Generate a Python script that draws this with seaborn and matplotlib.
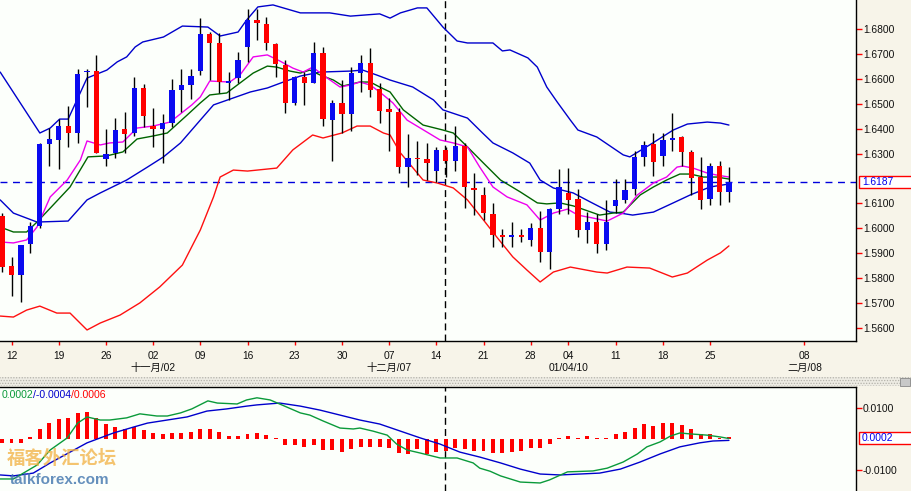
import numpy as np
import matplotlib
matplotlib.use("Agg")
import matplotlib.pyplot as plt
import matplotlib.transforms as mtransforms
from matplotlib.patches import Rectangle
import seaborn as sns

# ---------------- data (daily GBP/USD style candles, index = trading day) ----------------
opens = [1.6049, 1.5849, 1.5813, 1.5938, 1.6009, 1.6339, 1.6355, 1.6411, 1.6382, 1.6627,
         1.6632, 1.6277, 1.6301, 1.6399, 1.6382, 1.6564, 1.6411, 1.6398, 1.6422, 1.6556,
         1.6576, 1.6632, 1.6781, 1.6745, 1.6586, 1.6604, 1.6730, 1.6837, 1.6821, 1.6741,
         1.6656, 1.6505, 1.6607, 1.6585, 1.6706, 1.6435, 1.6505, 1.6459, 1.6626, 1.6666,
         1.6559, 1.6478, 1.6469, 1.6248, 1.6284, 1.6279, 1.6231, 1.6315, 1.6272, 1.6331,
         1.6161, 1.6134, 1.6057, 1.5973, 1.5966, 1.5973, 1.5953, 1.6000, 1.5906, 1.6077,
         1.6141, 1.6116, 1.5993, 1.6026, 1.5937, 1.6090, 1.6114, 1.6158, 1.6288, 1.6339,
         1.6291, 1.6355, 1.6367, 1.6308, 1.6205, 1.6118, 1.6250, 1.6146]
highs = [1.6061, 1.5886, 1.5933, 1.6026, 1.6342, 1.6402, 1.6438, 1.6492, 1.6640, 1.6640,
         1.6697, 1.6399, 1.6445, 1.6469, 1.6608, 1.6580, 1.6484, 1.6459, 1.6600, 1.6640,
         1.6640, 1.6845, 1.6790, 1.6784, 1.6630, 1.6710, 1.6882, 1.6880, 1.6851, 1.6746,
         1.6677, 1.6612, 1.6630, 1.6750, 1.6730, 1.6516, 1.6596, 1.6650, 1.6697, 1.6724,
         1.6583, 1.6523, 1.6482, 1.6379, 1.6352, 1.6344, 1.6328, 1.6328, 1.6411, 1.6342,
         1.6221, 1.6165, 1.6100, 1.5996, 1.6026, 1.5996, 1.6020, 1.6071, 1.6080, 1.6237,
         1.6241, 1.6157, 1.6064, 1.6057, 1.6114, 1.6198, 1.6198, 1.6312, 1.6351, 1.6382,
         1.6384, 1.6465, 1.6372, 1.6315, 1.6285, 1.6264, 1.6272, 1.6245]
lows = [1.5824, 1.5728, 1.5705, 1.5902, 1.6002, 1.6252, 1.6238, 1.6328, 1.6344, 1.6489,
        1.6301, 1.6252, 1.6281, 1.6301, 1.6371, 1.6408, 1.6328, 1.6261, 1.6408, 1.6469,
        1.6520, 1.6616, 1.6596, 1.6543, 1.6516, 1.6583, 1.6670, 1.6757, 1.6717, 1.6607,
        1.6462, 1.6496, 1.6496, 1.6583, 1.6411, 1.6272, 1.6382, 1.6392, 1.6549, 1.6529,
        1.6424, 1.6312, 1.6223, 1.6167, 1.6214, 1.6194, 1.6187, 1.6207, 1.6231, 1.6080,
        1.6053, 1.6033, 1.5923, 1.5926, 1.5926, 1.5946, 1.5929, 1.5866, 1.5835, 1.6057,
        1.6056, 1.5966, 1.5940, 1.5899, 1.5913, 1.6060, 1.6100, 1.6134, 1.6250, 1.6211,
        1.6250, 1.6311, 1.6250, 1.6134, 1.6079, 1.6094, 1.6094, 1.6106]
closes = [1.5845, 1.5813, 1.5933, 1.6009, 1.6339, 1.6359, 1.6411, 1.6384, 1.6620, 1.6634,
          1.6304, 1.6299, 1.6395, 1.6380, 1.6564, 1.6451, 1.6398, 1.6422, 1.6556, 1.6576,
          1.6612, 1.6781, 1.6746, 1.6588, 1.6589, 1.6677, 1.6837, 1.6824, 1.6744, 1.6659,
          1.6505, 1.6607, 1.6585, 1.6706, 1.6438, 1.6505, 1.6459, 1.6626, 1.6666, 1.6556,
          1.6473, 1.6469, 1.6248, 1.6281, 1.6279, 1.6264, 1.6315, 1.6272, 1.6331, 1.6165,
          1.6155, 1.6060, 1.5973, 1.5966, 1.5969, 1.5964, 1.6000, 1.5906, 1.6076, 1.6165,
          1.6114, 1.5993, 1.6025, 1.5937, 1.6026, 1.6114, 1.6154, 1.6285, 1.6335, 1.6268,
          1.6355, 1.6363, 1.6307, 1.6201, 1.6114, 1.6250, 1.6146, 1.6187]

# Bollinger upper / middle / lower and two moving averages
upper_x = [-0.2, 4.0, 5.1, 6.1, 7.0, 9.0, 11.1, 12.2, 13.2, 14.1, 14.9, 17.1, 19.1, 21.8, 23.1, 25.0,
           25.9, 27.1, 28.7, 31.6, 33.4, 34.7, 36.9, 40.0, 41.1, 42.2, 44.0, 45.0, 46.7, 48.2, 49.3,
           52.0, 53.0, 53.8, 55.7, 56.7, 57.7, 58.8, 60.2, 61.0, 63.0, 65.8, 66.5, 68.6, 71.1, 72.6,
           74.7, 76.1, 77.0]
upper_y = [1.6628, 1.6383, 1.6403, 1.6439, 1.6439, 1.6604, 1.6636, 1.6669, 1.6689, 1.6729, 1.6749,
           1.6769, 1.6813, 1.6809, 1.6773, 1.6789, 1.6837, 1.6890, 1.6898, 1.6866, 1.6866, 1.6866,
           1.6853, 1.6862, 1.6845, 1.6866, 1.6886, 1.6886, 1.6809, 1.6753, 1.6745, 1.6745, 1.6713,
           1.6717, 1.6685, 1.6648, 1.6568, 1.6508, 1.6435, 1.6395, 1.6367, 1.6295, 1.6287, 1.6335,
           1.6395, 1.6419, 1.6427, 1.6423, 1.6415]
mid_x = [-0.2, 1.2, 3.7, 7.0, 9.0, 10.4, 13.2, 15.4, 17.1, 18.9, 21.0, 22.4, 24.5, 26.3, 28.1, 29.8,
         31.6, 33.7, 36.9, 38.2, 39.7, 41.1, 43.5, 45.7, 46.7, 49.3, 50.9, 52.0, 54.1, 55.9, 57.0,
         58.4, 60.5, 62.3, 64.4, 65.5, 66.8, 69.0, 71.1, 72.9, 75.0, 77.0]
mid_y = [1.6114, 1.6061, 1.6025, 1.6029, 1.6114, 1.6142, 1.6194, 1.6246, 1.6287, 1.6343, 1.6435,
         1.6496, 1.6524, 1.6548, 1.6564, 1.6588, 1.6612, 1.6628, 1.6632, 1.6636, 1.6616, 1.6596,
         1.6568, 1.6516, 1.6476, 1.6443, 1.6383, 1.6343, 1.6303, 1.6262, 1.6194, 1.6162, 1.6142,
         1.6106, 1.6065, 1.6061, 1.6053, 1.6065, 1.6102, 1.6134, 1.6166, 1.6178]
lower_x = [-0.2, 1.2, 2.6, 4.0, 5.8, 7.2, 9.0, 10.4, 12.5, 14.6, 16.7, 19.1, 21.0, 22.4, 23.1, 24.5,
           26.0, 29.1, 30.8, 32.9, 34.0, 36.0, 37.6, 39.0, 40.4, 41.1, 42.2, 44.6, 46.1, 47.8, 49.3,
           51.0, 52.4, 54.1, 55.6, 57.0, 58.4, 60.2, 63.0, 64.1, 66.2, 68.6, 71.0, 72.6, 74.7, 76.1,
           77.0]
lower_y = [1.5647, 1.5643, 1.5671, 1.5687, 1.5659, 1.5659, 1.5591, 1.5619, 1.5651, 1.5700, 1.5764,
           1.5852, 1.5993, 1.6126, 1.6206, 1.6234, 1.6230, 1.6242, 1.6315, 1.6375, 1.6363, 1.6383,
           1.6411, 1.6411, 1.6383, 1.6375, 1.6303, 1.6194, 1.6182, 1.6162, 1.6114, 1.6033, 1.5965,
           1.5885, 1.5832, 1.5784, 1.5824, 1.5844, 1.5824, 1.5820, 1.5844, 1.5840, 1.5804, 1.5820,
           1.5872, 1.5901, 1.5929]
ma_fast_x = [-0.2, 1.2, 2.6, 3.7, 5.1, 6.9, 8.3, 9.0, 10.4, 11.4, 12.8, 14.3, 16.0, 17.8, 20.1, 21.0,
             22.0, 24.1, 25.2, 26.6, 28.1, 29.4, 30.8, 31.9, 32.9, 34.0, 35.8, 36.9, 37.9, 39.0, 40.0,
             41.4, 42.9, 44.3, 46.4, 47.8, 49.3, 50.6, 52.0, 53.5, 55.6, 57.0, 58.4, 59.9, 61.0, 62.6,
             64.1, 65.8, 67.3, 69.0, 70.4, 71.5, 72.1, 73.2, 74.7, 75.7, 77.0]
ma_fast_y = [1.5945, 1.5941, 1.5953, 1.6005, 1.6126, 1.6194, 1.6275, 1.6351, 1.6335, 1.6343, 1.6347,
             1.6403, 1.6411, 1.6427, 1.6496, 1.6528, 1.6592, 1.6588, 1.6616, 1.6689, 1.6697, 1.6673,
             1.6644, 1.6628, 1.6648, 1.6616, 1.6568, 1.6576, 1.6588, 1.6576, 1.6548, 1.6504, 1.6435,
             1.6403, 1.6355, 1.6343, 1.6327, 1.6246, 1.6166, 1.6126, 1.6094, 1.6033, 1.6061, 1.6077,
             1.6053, 1.6041, 1.6029, 1.6061, 1.6134, 1.6182, 1.6206, 1.6246, 1.6250, 1.6242, 1.6222,
             1.6214, 1.6206]
ma_slow_x = [-0.2, 1.2, 2.6, 3.7, 5.1, 7.2, 9.1, 11.1, 12.8, 14.3, 16.0, 17.5, 19.6, 21.0, 22.0, 23.8,
             25.2, 26.6, 28.1, 29.1, 30.5, 31.6, 32.6, 33.7, 35.1, 36.1, 37.9, 39.0, 40.0, 41.1, 42.5,
             44.6, 46.7, 47.8, 49.3, 51.0, 52.8, 54.9, 56.7, 57.7, 59.1, 60.5, 61.2, 63.3, 64.7, 65.8,
             67.6, 69.0, 70.4, 71.8, 72.9, 74.3, 75.7, 77.0]
ma_slow_y = [1.6005, 1.5985, 1.5985, 1.6025, 1.6081, 1.6166, 1.6287, 1.6291, 1.6307, 1.6359, 1.6371,
             1.6383, 1.6455, 1.6504, 1.6536, 1.6544, 1.6584, 1.6624, 1.6652, 1.6648, 1.6632, 1.6624,
             1.6636, 1.6616, 1.6596, 1.6572, 1.6588, 1.6588, 1.6568, 1.6548, 1.6476, 1.6415, 1.6395,
             1.6383, 1.6327, 1.6262, 1.6194, 1.6146, 1.6102, 1.6098, 1.6102, 1.6090, 1.6081, 1.6053,
             1.6061, 1.6065, 1.6134, 1.6166, 1.6194, 1.6218, 1.6218, 1.6206, 1.6206, 1.6198]

# MACD panel
macd_x = [-0.2, 1.2, 3.7, 5.1, 6.9, 8.0, 9.0, 10.4, 11.4, 13.2, 14.6, 16.4, 17.5, 18.9, 20.1, 21.8,
          22.8, 24.9, 25.9, 27.0, 28.4, 29.4, 31.6, 32.6, 34.0, 35.8, 37.2, 37.9, 39.3, 40.8, 41.8,
          42.9, 44.3, 46.4, 48.2, 49.9, 50.6, 51.7, 52.8, 54.9, 57.0, 58.0, 59.9, 62.6, 64.1, 65.8,
          67.3, 68.3, 69.7, 70.8, 71.8, 72.9, 74.7, 76.1, 77.0]
macd_y = [-0.0129, -0.0129, -0.0084, -0.0035, 0.0004, 0.0052, 0.0072, 0.0062, 0.0062, 0.0069, 0.0082,
          0.0075, 0.0075, 0.0085, 0.0098, 0.0124, 0.0117, 0.0114, 0.0127, 0.0134, 0.0127, 0.0114,
          0.0085, 0.0078, 0.0059, 0.0036, 0.0033, 0.0036, 0.0026, 0.0013, -0.0016, -0.0035, -0.0045,
          -0.0061, -0.0061, -0.0077, -0.0094, -0.0104, -0.0119, -0.0139, -0.0142, -0.0132, -0.0106,
          -0.0103, -0.0094, -0.0074, -0.0048, -0.0025, -0.0009, 0.0010, 0.0020, 0.0017, 0.0013,
          0.0007, 0.0002]
signal_x = [-0.2, 1.2, 3.3, 5.1, 7.2, 9.0, 10.4, 11.8, 13.9, 15.4, 17.5, 19.6, 21.7, 23.8, 25.9, 27.0,
            29.4, 31.6, 33.7, 35.8, 37.9, 40.0, 42.2, 44.3, 46.4, 48.5, 50.6, 52.8, 54.9, 57.0, 59.1,
            61.2, 63.3, 65.5, 67.6, 69.7, 71.8, 73.9, 75.3, 77.0]
signal_y = [-0.0116, -0.0119, -0.0110, -0.0077, -0.0042, -0.0012, 0.0004, 0.0020, 0.0039, 0.0052,
            0.0062, 0.0072, 0.0091, 0.0098, 0.0107, 0.0111, 0.0117, 0.0107, 0.0094, 0.0078, 0.0062,
            0.0049, 0.0026, 0.0004, -0.0016, -0.0042, -0.0058, -0.0077, -0.0097, -0.0113, -0.0116,
            -0.0113, -0.0110, -0.0097, -0.0074, -0.0048, -0.0025, -0.0012, -0.0006, -0.0004]
hist = [-0.0011, -0.0011, -0.0011, 0.0006, 0.0032, 0.0052, 0.0066, 0.0068, 0.0084, 0.0088,
        0.0067, 0.0049, 0.0041, 0.0032, 0.0038, 0.0030, 0.0019, 0.0016, 0.0019, 0.0019,
        0.0022, 0.0032, 0.0032, 0.0022, 0.0011, 0.0009, 0.0016, 0.0019, 0.0012, 0.0003,
        -0.0018, -0.0019, -0.0027, -0.0019, -0.0035, -0.0035, -0.0043, -0.0032, -0.0024, -0.0024,
        -0.0026, -0.0029, -0.0045, -0.0049, -0.0032, -0.0049, -0.0042, -0.0038, -0.0030, -0.0032,
        -0.0037, -0.0040, -0.0045, -0.0045, -0.0042, -0.0039, -0.0030, -0.0030, -0.0016, 0.0003,
        0.0009, 0.0005, 0.0009, 0.0003, 0.0005, 0.0016, 0.0023, 0.0036, 0.0049, 0.0044,
        0.0052, 0.0052, 0.0045, 0.0032, 0.0018, 0.0016, 0.0004, 0.0006]

date_ticks = [1, 6, 11, 16, 21, 26, 31, 36, 41, 46, 51, 56, 60, 65, 70, 75, 85]
date_labels = ['12', '19', '26', '02', '09', '16', '23', '30', '07', '14', '21', '28',
               '04', '11', '18', '25', '08']
month_ticks = [16, 41, 60, 85]
month_labels = ['十一月/02', '十二月/07', '01/04/10', '二月/08']
price_ticks = [1.56, 1.57, 1.58, 1.59, 1.60, 1.61, 1.63, 1.64, 1.65, 1.66, 1.67, 1.68]
macd_ticks = [0.01, -0.01]
cursor_x = 46.9

# ---------------- style ----------------
sns.set_style("white")
plt.rcParams['font.family'] = ['Liberation Sans', 'Noto Sans CJK SC']
plt.rcParams['hatch.linewidth'] = 0.6

W, H = 911, 491
BG_OUT = '#f7f4e9'
BG_IN = '#fcfffb'
BLUE = '#0a0af0'
RED = '#ff0000'

fig = plt.figure(figsize=(W / 100, H / 100), dpi=100, facecolor=BG_OUT)
ax = fig.add_axes([0, 1 - 341 / H, 856 / W, 341 / H], facecolor=BG_IN)
ax2 = fig.add_axes([0, 0, 856 / W, 104 / H], facecolor=BG_IN)

XLIM = (-0.22, 90.46)

# ---------------- main panel ----------------
n = len(opens)
xs = np.arange(n)
o = np.array(opens); c = np.array(closes)
up = c >= o
cols = np.where(up, BLUE, RED)
ax.vlines(xs, lows, highs, color='black', lw=1.0, zorder=3)
body_lo = np.minimum(o, c)
body_h = np.maximum(np.abs(c - o), 0.0005)
ax.bar(xs, body_h, bottom=body_lo, width=0.56, color=cols, linewidth=0, zorder=4)

line_kw = dict(ax=ax, estimator=None, sort=False, lw=1.0, legend=False, zorder=2)
sns.lineplot(x=upper_x, y=upper_y, color='#0000cc', **line_kw)
sns.lineplot(x=mid_x, y=mid_y, color='#0000cc', **line_kw)
sns.lineplot(x=lower_x, y=lower_y, color='#ff1010', **line_kw)
sns.lineplot(x=ma_slow_x, y=ma_slow_y, color='#006400', **line_kw)
sns.lineplot(x=ma_fast_x, y=ma_fast_y, color='#ee00ee', **line_kw)

last_close = closes[-1]
ax.axhline(last_close, color='#0000dd', lw=1.0, ls=(0, (5, 4)), zorder=1)
ax.axvline(cursor_x, color='black', lw=1.0, ls=(0, (5, 3)), zorder=1)

ax.set_xlim(*XLIM)
ax.set_ylim(1.55467, 1.69178)
ax.yaxis.tick_right()
ax.set_yticks(price_ticks)
ax.set_yticklabels([f'{v:.4f}' for v in price_ticks])
ax.tick_params(axis='y', colors=RED, labelcolor='#101010', length=4, width=1,
               direction='out', pad=1, labelsize=7.4, right=True, left=False)
ax.set_xticks(date_ticks)
ax.set_xticklabels(date_labels)
ax.tick_params(axis='x', colors=RED, labelcolor='#101010', length=3, width=1,
               direction='out', pad=4, labelsize=7.4, bottom=True)
for s in ['top', 'left']:
    ax.spines[s].set_visible(False)
for s in ['bottom', 'right']:
    ax.spines[s].set_color('black'); ax.spines[s].set_linewidth(1.0)
ax.set_xlabel(''); ax.set_ylabel('')

trans = mtransforms.blended_transform_factory(ax.transData, ax.transAxes)
for mt, ml in zip(month_ticks, month_labels):
    ax.text(mt, -27 / 341, ml, transform=trans, ha='center', va='center',
            fontsize=7.4, color='#101010')

# last-price box
tb = mtransforms.blended_transform_factory(ax.transAxes, ax.transData)
ax.add_patch(Rectangle((859 / 856, last_close - 0.0024), 60 / 856, 0.0048, transform=tb,
                       facecolor='white', edgecolor=RED, lw=1.0, clip_on=False, zorder=6))
ax.text(862 / 856, last_close, f'{last_close:.4f}', transform=tb, color='#0000ee',
        ha='left', va='center', fontsize=7.4, clip_on=False, zorder=7)

# ---------------- MACD panel ----------------
ax2.bar(xs, hist, width=0.42, color=RED, linewidth=0, zorder=2)
sns.lineplot(x=signal_x, y=signal_y, ax=ax2, color='#0000cc', lw=1.0, estimator=None,
             sort=False, legend=False, zorder=3)
sns.lineplot(x=macd_x, y=macd_y, ax=ax2, color='#0a9a3a', lw=1.0, estimator=None,
             sort=False, legend=False, zorder=3)
ax2.axvline(cursor_x, color='black', lw=1.0, ls=(0, (5, 3)), zorder=1)
ax2.set_xlim(*XLIM)
ax2.set_ylim(-0.0168, 0.0169)
ax2.yaxis.tick_right()
ax2.set_yticks(macd_ticks)
ax2.set_yticklabels([f'{v:.4f}' for v in macd_ticks])
ax2.tick_params(axis='y', colors=RED, labelcolor='#101010', length=4, width=1,
                direction='out', pad=1, labelsize=7.4, right=True, left=False)
ax2.set_xticks([])
for s in ['bottom', 'left']:
    ax2.spines[s].set_visible(False)
for s in ['top', 'right']:
    ax2.spines[s].set_color('black'); ax2.spines[s].set_linewidth(1.0)
ax2.set_xlabel(''); ax2.set_ylabel('')

tb2 = mtransforms.blended_transform_factory(ax2.transAxes, ax2.transData)
mval = macd_y[-1]
ax2.add_patch(Rectangle((859 / 856, 0.0004 - 0.0019), 60 / 856, 0.0038, transform=tb2,
                        facecolor='white', edgecolor=RED, lw=1.0, clip_on=False, zorder=6))
ax2.text(862 / 856, 0.0004, f'{mval:.4f}', transform=tb2, color='#0000ee',
         ha='left', va='center', fontsize=7.4, clip_on=False, zorder=7)

t1 = ax2.text(0.0015, 0.975, f'{macd_y[-1]:.4f}', transform=ax2.transAxes, color='#0a9a3a',
              ha='left', va='top', fontsize=7.6)
t2 = ax2.annotate(f'/{signal_y[-1]:.4f}', xy=(1, 0), xycoords=t1, color='#0000cc',
                  ha='left', va='bottom', fontsize=7.6)
t3 = ax2.annotate(f'/{hist[-1]:.4f}', xy=(1, 0), xycoords=t2, color=RED,
                  ha='left', va='bottom', fontsize=7.6)

# separator strip between panels
fig.add_artist(Rectangle((0, 1 - 386 / H), 1, 9 / H, transform=fig.transFigure,
                         facecolor='#eeece4', edgecolor='#b4b2aa', hatch='......', lw=0))
fig.add_artist(Rectangle((900 / W, 1 - 386 / H), 10 / W, 8 / H, transform=fig.transFigure,
                         facecolor='#c8c8c8', edgecolor='#888888', lw=0.6))

# watermark
fig.text(7 / W, 1 - 459 / H, '福客外汇论坛', fontsize=13.2, color='#f2b040', alpha=0.75,
         family=['Noto Sans CJK SC'], fontweight='bold', ha='left', va='center')
fig.text(10 / W, 1 - 480 / H, 'talkforex.com', fontsize=11, color='#3f74ad', alpha=0.8,
         family=['Liberation Sans'], fontweight='bold', ha='left', va='center')

fig.savefig('out.png', dpi=100, facecolor=fig.get_facecolor())
